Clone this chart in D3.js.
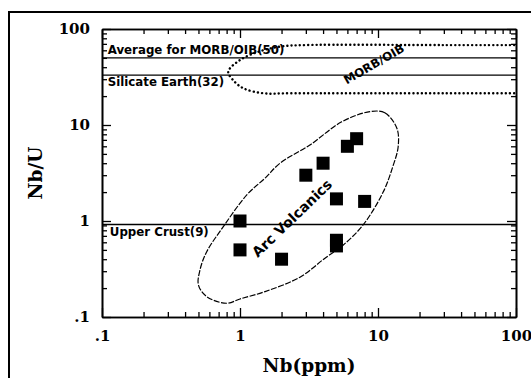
<!DOCTYPE html>
<html>
<head>
<meta charset="utf-8">
<script src="https://cdn.jsdelivr.net/npm/d3@7/dist/d3.min.js"></script>
<style>
    body { margin: 0; background: #fff; }
    .tick text { font-family: "DejaVu Serif", serif; font-weight: bold; font-size: 15px; fill: #000; }
    .label { font-family: "DejaVu Sans", sans-serif; font-weight: bold; fill: #000; }
    .title { font-family: "DejaVu Serif", serif; font-weight: bold; font-size: 18.5px; fill: #000; }
</style>
</head>
<body>
<div id="chart"></div>
<script>
// samples
const nb = [1, 1, 2, 3, 4, 6, 7, 5, 8, 5, 5];
const nbU = [1.0, 0.5, 0.4, 3.0, 4.0, 6.0, 7.2, 1.7, 1.6, 0.63, 0.55];

// reference lines
const refNames = ["Average for MORB/OIB(50)", "Silicate Earth(32)", "Upper Crust(9)"];
const refValues = [50, 33, 0.92];

// fields
const arcNb = [8.75, 11.2, 13.7, 14.0, 12.8, 10.9, 7.8, 5.58, 4.13, 2.72, 1.52, 1.0, 0.80, 0.574, 0.50, 0.513, 0.574, 0.757, 1.12, 1.52, 1.95, 3.21, 5.46];
const arcNbU = [13.8, 13.4, 9.24, 5.94, 3.68, 2.0, 0.91, 0.56, 0.41, 0.26, 0.184, 0.154, 0.139, 0.163, 0.215, 0.309, 0.479, 0.873, 1.87, 2.8, 4.0, 6.19, 10.8];
const morbNb = [97, 30, 3, 1.95, 1.36, 1.0, 0.822, 0.89, 1.06, 1.48, 2.3, 30, 97];
const morbNbU = [68, 68, 68, 65.5, 58, 47.5, 36, 29.4, 24.1, 21.4, 21.4, 21.4, 21.4];

const xTicks = [0.1, 1, 10, 100];
const yTicks = [0.1, 1, 10, 100];

const WIDTH = 531;
const HEIGHT = 378;
const LEFT = 102, RIGHT = 516, TOP = 29, BOTTOM = 317;
const MAJOR = 9, MINOR = 5;

const svg = d3.select("#chart")
    .append("svg")
    .attr("width", WIDTH)
    .attr("height", HEIGHT);

// outer frame
svg.append("rect")
    .attr("x", 9).attr("y", 12)
    .attr("width", 600).attr("height", 500)
    .attr("fill", "none")
    .attr("stroke", "#000")
    .attr("stroke-width", 2);

const x = d3.scaleLog().domain([0.1, 100]).range([LEFT, RIGHT]);
const y = d3.scaleLog().domain([0.1, 100]).range([BOTTOM, TOP]);

const fmt = d => d === 0.1 ? ".1" : String(d);
const minorX = x.ticks().filter(d => !xTicks.includes(d));
const minorY = y.ticks().filter(d => !yTicks.includes(d));

function styleAxis(g) {
    g.select(".domain").attr("stroke-width", 1.6);
    g.selectAll(".tick line").attr("stroke-width", 1.3);
}

// bottom
svg.append("g").attr("transform", `translate(0,${BOTTOM})`)
    .call(d3.axisBottom(x).tickValues(xTicks).tickFormat(fmt).tickSize(-MAJOR).tickSizeOuter(0).tickPadding(13))
    .call(styleAxis);
svg.append("g").attr("transform", `translate(0,${BOTTOM})`)
    .call(d3.axisBottom(x).tickValues(minorX).tickFormat("").tickSize(-MINOR).tickSizeOuter(0))
    .call(styleAxis);
// top
svg.append("g").attr("transform", `translate(0,${TOP})`)
    .call(d3.axisTop(x).tickValues(xTicks).tickFormat("").tickSize(-MAJOR).tickSizeOuter(0))
    .call(styleAxis);
svg.append("g").attr("transform", `translate(0,${TOP})`)
    .call(d3.axisTop(x).tickValues(minorX).tickFormat("").tickSize(-MINOR).tickSizeOuter(0))
    .call(styleAxis);
// left
svg.append("g").attr("transform", `translate(${LEFT},0)`)
    .call(d3.axisLeft(y).tickValues(yTicks).tickFormat(fmt).tickSize(-MAJOR).tickSizeOuter(0).tickPadding(12))
    .call(styleAxis);
svg.append("g").attr("transform", `translate(${LEFT},0)`)
    .call(d3.axisLeft(y).tickValues(minorY).tickFormat("").tickSize(-MINOR).tickSizeOuter(0))
    .call(styleAxis);
// right
svg.append("g").attr("transform", `translate(${RIGHT},0)`)
    .call(d3.axisRight(y).tickValues(yTicks).tickFormat("").tickSize(-MAJOR).tickSizeOuter(0))
    .call(styleAxis);
svg.append("g").attr("transform", `translate(${RIGHT},0)`)
    .call(d3.axisRight(y).tickValues(minorY).tickFormat("").tickSize(-MINOR).tickSizeOuter(0))
    .call(styleAxis);

// reference lines
svg.selectAll("line.ref")
    .data(refValues)
    .join("line")
    .attr("class", "ref")
    .attr("x1", LEFT).attr("x2", RIGHT)
    .attr("y1", d => y(d)).attr("y2", d => y(d))
    .attr("stroke", "#000")
    .attr("stroke-width", 1.3);

const refLabelPos = [
    {x: 0.11, dy: -4},
    {x: 0.11, dy: 11},
    {x: 0.114, dy: 12}
];
svg.selectAll("text.ref")
    .data(refNames)
    .join("text")
    .attr("class", "label")
    .attr("font-size", 11.8)
    .attr("x", (d, i) => x(refLabelPos[i].x))
    .attr("y", (d, i) => y(refValues[i]) + refLabelPos[i].dy)
    .text(d => d);

// MORB/OIB field (dotted)
const morbLine = d3.line()
    .x(i => x(morbNb[i]))
    .y(i => y(morbNbU[i]))
    .curve(d3.curveCatmullRom);
svg.append("path")
    .attr("d", morbLine(d3.range(morbNb.length)))
    .attr("fill", "none")
    .attr("stroke", "#000")
    .attr("stroke-width", 2.4)
    .attr("stroke-linecap", "round")
    .attr("stroke-dasharray", "0.1 4.1");

svg.append("text")
    .attr("class", "label")
    .attr("font-size", 11.8)
    .attr("text-anchor", "middle")
    .attr("dominant-baseline", "central")
    .attr("transform", `translate(${x(9.35)},${y(43)}) rotate(-30)`)
    .text("MORB/OIB");

// Arc volcanics field (dashed)
const arcLine = d3.line()
    .x(i => x(arcNb[i]))
    .y(i => y(arcNbU[i]))
    .curve(d3.curveCatmullRomClosed);
svg.append("path")
    .attr("d", arcLine(d3.range(arcNb.length)))
    .attr("fill", "none")
    .attr("stroke", "#000")
    .attr("stroke-width", 1.2)
    .attr("stroke-dasharray", "6 1.5");

svg.append("text")
    .attr("class", "label")
    .attr("font-size", 14)
    .attr("text-anchor", "middle")
    .attr("dominant-baseline", "central")
    .attr("transform", `translate(${x(2.38)},${y(1.07)}) rotate(-44)`)
    .text("Arc Volcanics");

// samples
const SQ = 13;
svg.selectAll("rect.pt")
    .data(d3.range(nb.length))
    .join("rect")
    .attr("class", "pt")
    .attr("x", i => x(nb[i]) - SQ / 2)
    .attr("y", i => y(nbU[i]) - SQ / 2)
    .attr("width", SQ)
    .attr("height", SQ)
    .attr("fill", "#000");

// axis titles
svg.append("text")
    .attr("class", "title")
    .attr("text-anchor", "middle")
    .attr("x", (LEFT + RIGHT) / 2)
    .attr("y", 372)
    .text("Nb(ppm)");

svg.append("text")
    .attr("class", "title")
    .attr("text-anchor", "middle")
    .attr("transform", `translate(42,${(TOP + BOTTOM) / 2}) rotate(-90)`)
    .text("Nb/U");
</script>
</body>
</html>
